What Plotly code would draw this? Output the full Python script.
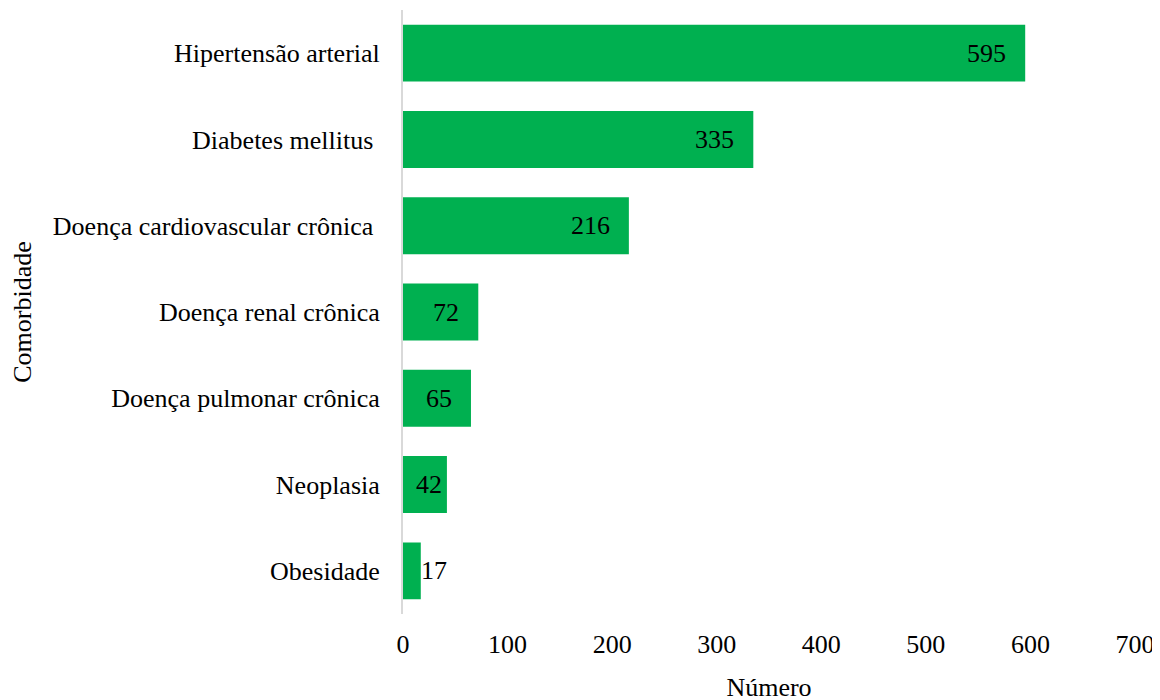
import plotly.graph_objects as go

categorias = ["Hipertensão arterial", "Diabetes mellitus ", "Doença cardiovascular crônica ",
              "Doença renal crônica", "Doença pulmonar crônica", "Neoplasia", "Obesidade"]
valores = [595, 335, 216, 72, 65, 42, 17]
ticks_x = [0, 100, 200, 300, 400, 500, 600, 700]

FONT = "Liberation Serif, Times New Roman, serif"
FS = 26
XMAX = 700
W, H = 1160, 700
ML, MR, MT, MB = 395, 33, 2, 94
plot_w = W - ML - MR

fig = go.Figure(go.Bar(
    y=categorias, x=valores, orientation="h",
    marker=dict(color="#00B050", line=dict(width=0)),
    hoverinfo="x+y",
))

# value labels (positioned at each bar's value)
for cat, v in zip(categorias, valores):
    bar_px = v / XMAX * plot_w
    txt_w = 0.5 * FS * len(str(v))
    if bar_px - txt_w >= 34:
        anchor, shift = "right", -17
    elif bar_px >= txt_w + 3:
        anchor, shift = "right", -3
    else:
        anchor, shift = "left", -2
    fig.add_annotation(x=v, y=cat, text=str(v), showarrow=False,
                       xanchor=anchor, xshift=shift, yanchor="middle",
                       font=dict(family=FONT, size=FS, color="black"))

fig.update_layout(
    width=W, height=H,
    margin=dict(l=ML, r=MR, t=MT, b=MB),
    plot_bgcolor="white", paper_bgcolor="white",
    bargap=0.34,
    showlegend=False,
    font=dict(family=FONT, size=FS, color="black"),
)
fig.update_xaxes(
    range=[0, XMAX], tickvals=ticks_x, showgrid=False, zeroline=False,
    showline=False, ticks="", ticklabelstandoff=12, tickfont=dict(size=FS),
    title=dict(text="Número", font=dict(size=FS), standoff=19),
)
fig.update_yaxes(
    categoryorder="array", categoryarray=categorias[::-1],
    showgrid=False, zeroline=False, showline=True, linecolor="#D9D9D9", linewidth=2,
    ticks="", ticklabelstandoff=16, tickfont=dict(size=FS),
    title=dict(text="Comorbidade", font=dict(size=FS), standoff=16),
)
fig.write_html("out.html")
